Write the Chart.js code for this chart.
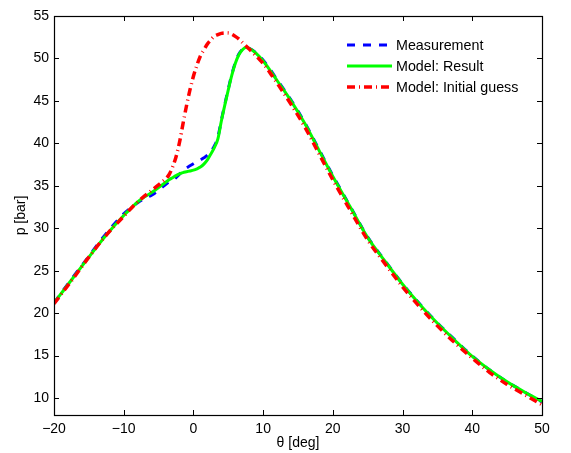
<!DOCTYPE html>
<html>
<head>
<meta charset="utf-8">
<script src="https://cdn.jsdelivr.net/npm/chart.js@4.4.0/dist/chart.umd.min.js"></script>
<style>
  body { margin: 0; background: #fff; }
  canvas { display: block; }
</style>
</head>
<body>
<canvas id="myChart" width="571" height="453"></canvas>
<script>
// crank angle [deg]
const thetaDeg = [-20, -17.5, -15, -12.5, -10, -9, -8, -7, -6, -5, -4.5, -4, -3.5, -3, -2.5,
  -2, -1.5, -1, -0.5, 0, 0.5, 1, 1.5, 2, 2.5, 3, 3.5, 4, 4.5, 5, 5.5, 6, 6.5, 7, 7.5,
  8, 9, 10, 11, 12, 14, 16, 18, 20, 22.5, 25, 27.5, 30, 32.5, 35, 37.5, 40, 42.5, 45, 47.5, 50];

// pressure [bar]
const measurement = [21.2, 24.0, 26.7, 29.4, 31.7, 32.4, 33.0, 33.5, 33.9, 34.45, 34.8, 35.15, 35.45, 35.6, 35.95,
  36.35, 36.8, 37.1, 37.35, 37.6, 37.85, 38.05, 38.3, 38.6, 39.05, 39.7, 40.7, 42.7, 44.6, 46.4, 48.1, 49.5, 50.5, 51.05, 51.3,
  51.2, 50.65, 49.8, 48.7, 47.5, 45.1, 42.4, 39.3, 36.2, 32.55, 28.95, 26.15, 23.45, 21.05, 18.85, 16.85, 14.95, 13.3, 11.9, 10.7, 9.55];

const modelResult = [21.2, 23.9, 26.6, 29.2, 31.5, 32.3, 33.1, 33.7, 34.2, 34.8, 35.1, 35.4, 35.7, 35.95, 36.2,
  36.4, 36.55, 36.65, 36.75, 36.85, 37.0, 37.2, 37.55, 38.05, 38.75, 39.5, 40.5, 42.6, 44.5, 46.3, 48.0, 49.4, 50.4, 51.0, 51.3,
  51.2, 50.6, 49.7, 48.6, 47.4, 45.0, 42.3, 39.2, 36.1, 32.5, 28.9, 26.1, 23.4, 21.0, 18.8, 16.8, 14.9, 13.3, 11.9, 10.7, 9.6];

const initialGuess = [21.1, 23.8, 26.6, 29.2, 31.4, 32.3, 33.1, 33.8, 34.45, 35.1, 35.45, 35.8, 36.3, 37.2, 38.4,
  40.1, 42.3, 44.4, 46.3, 47.9, 49.2, 50.3, 51.0, 51.7, 52.2, 52.6, 52.8, 52.95, 53.0, 53.0, 52.85, 52.6, 52.3, 51.9, 51.5,
  51.1, 50.3, 49.4, 48.3, 47.1, 44.6, 41.9, 38.8, 35.7, 32.1, 28.6, 25.8, 23.1, 20.7, 18.5, 16.5, 14.7, 13.0, 11.6, 10.4, 9.2];

const xTicks = [-20, -10, 0, 10, 20, 30, 40, 50];
const yTicks = [10, 15, 20, 25, 30, 35, 40, 45, 50, 55];

const FONT = '"Liberation Sans", Arial, sans-serif';

function toPoints(ys) {
  return thetaDeg.map((x, i) => ({ x: x, y: ys[i] }));
}

// matlab style box with ticks pointing inwards
const frameTicks = {
  id: 'frameTicks',
  afterDraw(chart) {
    const { ctx, chartArea: a, scales } = chart;
    const len = 5;
    ctx.save();
    ctx.strokeStyle = '#000';
    ctx.lineWidth = 1;
    ctx.beginPath();
    xTicks.forEach(v => {
      const px = Math.round(scales.x.getPixelForValue(v)) + 0.5;
      ctx.moveTo(px, a.bottom); ctx.lineTo(px, a.bottom - len);
      ctx.moveTo(px, a.top); ctx.lineTo(px, a.top + len);
    });
    yTicks.forEach(v => {
      const py = Math.round(scales.y.getPixelForValue(v)) + 0.5;
      ctx.moveTo(a.left, py); ctx.lineTo(a.left + len, py);
      ctx.moveTo(a.right, py); ctx.lineTo(a.right - len, py);
    });
    ctx.stroke();
    ctx.lineWidth = 1.2;
    ctx.strokeRect(Math.round(a.left) + 0.5, Math.round(a.top) + 0.5,
      Math.round(a.right - a.left), Math.round(a.bottom - a.top));
    ctx.restore();
  }
};

// legend inside the axes, no box
const innerLegend = {
  id: 'innerLegend',
  afterDraw(chart) {
    const { ctx, chartArea: a } = chart;
    const items = chart.data.datasets.slice().sort((p, q) => p.legendIndex - q.legendIndex);
    const x0 = a.right - 195;
    const y0 = a.top + 29;
    ctx.save();
    ctx.font = '14.3px ' + FONT;
    ctx.textBaseline = 'middle';
    ctx.fillStyle = '#000';
    items.forEach((ds, i) => {
      const y = y0 + i * 21;
      ctx.strokeStyle = ds.borderColor;
      ctx.lineWidth = ds.borderWidth;
      ctx.setLineDash(ds.borderDash || []);
      ctx.beginPath();
      ctx.moveTo(x0, y);
      ctx.lineTo(x0 + 45, y);
      ctx.stroke();
      ctx.setLineDash([]);
      ctx.fillText(ds.label, x0 + 49, y + 1);
    });
    ctx.restore();
  }
};

const ctx = document.getElementById('myChart').getContext('2d');

const chart = new Chart(ctx, {
  type: 'line',
  data: {
    datasets: [
      {
        label: 'Measurement',
        legendIndex: 0,
        order: 2,
        data: toPoints(measurement),
        borderColor: '#0000ff',
        borderWidth: 3,
        borderDash: [8, 8],
        pointRadius: 0,
        fill: false,
        cubicInterpolationMode: 'monotone'
      },
      {
        label: 'Model: Result',
        legendIndex: 1,
        order: 1,
        data: toPoints(modelResult),
        borderColor: '#00ff00',
        borderWidth: 3,
        pointRadius: 0,
        fill: false,
        cubicInterpolationMode: 'monotone'
      },
      {
        label: 'Model: Initial guess',
        legendIndex: 2,
        order: 0,
        data: toPoints(initialGuess),
        borderColor: '#ff0000',
        borderWidth: 3.5,
        borderDash: [8, 4, 1, 4],
        pointRadius: 0,
        fill: false,
        cubicInterpolationMode: 'monotone'
      }
    ]
  },
  options: {
    responsive: false,
    animation: false,
    devicePixelRatio: 1,
    layout: { padding: { left: 0, right: 29, top: 16, bottom: 0 } },
    plugins: {
      legend: { display: false },
      tooltip: { enabled: false }
    },
    scales: {
      x: {
        type: 'linear',
        min: -20,
        max: 50,
        afterBuildTicks: s => { s.ticks = xTicks.map(v => ({ value: v })); },
        afterFit: s => { s.height = 38; },
        grid: { display: false, drawTicks: false },
        border: { display: false },
        ticks: {
          padding: 6,
          color: '#000',
          font: { family: FONT, size: 14 },
          callback: v => (v < 0 ? '\u2212' + Math.abs(v) : '' + v)
        },
        title: {
          display: true,
          text: '\u03b8 [deg]',
          color: '#000',
          font: { family: FONT, size: 14 },
          padding: { top: 0, bottom: 1 }
        }
      },
      y: {
        type: 'linear',
        min: 8,
        max: 55,
        afterBuildTicks: s => { s.ticks = yTicks.map(v => ({ value: v })); },
        afterFit: s => { s.width = 54; },
        grid: { display: false, drawTicks: false },
        border: { display: false },
        ticks: {
          padding: 5,
          color: '#000',
          font: { family: FONT, size: 14 }
        },
        title: {
          display: true,
          text: 'p [bar]',
          color: '#000',
          font: { family: FONT, size: 14 },
          padding: { top: 13, bottom: 0 }
        }
      }
    }
  },
  plugins: [frameTicks, innerLegend]
});
</script>
</body>
</html>
